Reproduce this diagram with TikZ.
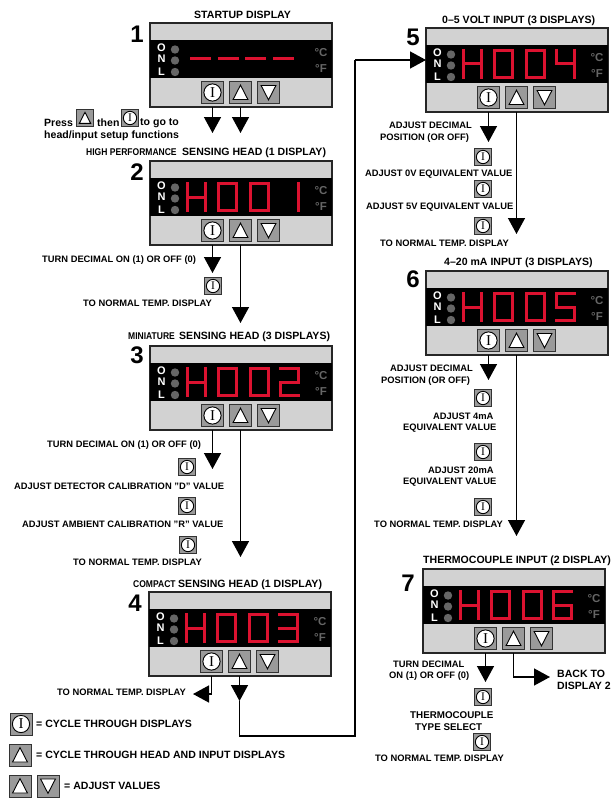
\documentclass[tikz,border=0pt]{standalone}
\usepackage{fontspec}
\setmainfont{Liberation Sans}
\newfontfamily\serfam{Liberation Serif}
\newfontfamily\condf[FakeStretch=0.87]{Liberation Sans}
\usetikzlibrary{arrows.meta}
\definecolor{pgrey}{HTML}{D2D2D2}
\definecolor{bgrey}{HTML}{9A9A9A}
\definecolor{dotg}{HTML}{666666}
\definecolor{segred}{HTML}{DC1230}
\tikzset{
  x=1pt,y=-1pt,
  panelbox/.style={draw=black!85,line width=1.1pt,fill=pgrey,minimum width=182pt,minimum height=84pt,anchor=north west,inner sep=0pt,outer sep=0pt},
  btnbox/.style={draw=black!80,line width=0.9pt,fill=bgrey,minimum size=22pt,inner sep=0pt,outer sep=0pt},
  ifont/.style={font=\serfam\fontsize{15}{15}\selectfont,inner sep=0pt,text=black},
  lab/.style={font=\fontsize{9.35}{10}\selectfont\bfseries,inner sep=0pt,anchor=base west},
  hlab/.style={font=\fontsize{10.55}{11}\selectfont\bfseries,inner sep=0pt,anchor=base west},
  mlab/.style={font=\fontsize{9.8}{10}\selectfont\bfseries,inner sep=0pt,anchor=base west},
  condlab/.style={font=\condf\fontsize{9.8}{10}\selectfont\bfseries,inner sep=0pt,anchor=base west},
  numlab/.style={font=\fontsize{24}{24}\selectfont\bfseries,inner sep=0pt},
  onl/.style={font=\fontsize{11}{11}\selectfont\bfseries,text=white,inner sep=0pt},
  deg/.style={font=\fontsize{11.5}{12}\selectfont\bfseries,text=dotg,inner sep=0pt},
  seg/.style={draw=segred,line width=3pt},
  conn/.style={draw=black,line width=1.4pt},
  arr/.style={conn,-{Triangle[width=17pt,length=16pt]}}
}
% buttons: name, cx, cy, size
\newcommand\btnI[4]{\begin{scope}[shift={(#2,#3)},scale=#4/22,transform shape]
  \node[btnbox] (#1) at (0,0) {};
  \draw[fill=white,draw=black,line width=0.9pt] (0,0) circle (8.6);
  \node[ifont] (#1t) at (0,0) {I};
\end{scope}}
\newcommand\btnU[4]{\begin{scope}[shift={(#2,#3)},scale=#4/22,transform shape]
  \node[btnbox] (#1) at (0,0) {};
  \draw[fill=white,draw=black,line width=0.9pt] (-7.4,7) -- (0,-7.4) -- (7.4,7) -- cycle;
\end{scope}}
\newcommand\btnD[4]{\begin{scope}[shift={(#2,#3)},scale=#4/22,transform shape]
  \node[btnbox] (#1) at (0,0) {};
  \draw[fill=white,draw=black,line width=0.9pt] (-7.4,-7) -- (0,7.4) -- (7.4,-7) -- cycle;
\end{scope}}
% seven segment digit
\newcommand\sga{\draw[seg] (0,1.4) -- (21,1.4);}
\newcommand\sgb{\draw[seg] (19.6,0) -- (19.6,14.6);}
\newcommand\sgc{\draw[seg] (19.6,15.4) -- (19.6,30);}
\newcommand\sgd{\draw[seg] (0,28.6) -- (21,28.6);}
\newcommand\sge{\draw[seg] (1.4,15.4) -- (1.4,30);}
\newcommand\sgf{\draw[seg] (1.4,0) -- (1.4,14.6);}
\newcommand\sgg{\draw[seg] (0,15) -- (21,15);}
\newcommand\digH{\sgf\sge\sgb\sgc\sgg}
\newcommand\digO{\sga\sgb\sgc\sgd\sge\sgf}
\newcommand\digA{\sgb\sgc}
\newcommand\digB{\sga\sgb\sgg\sge\sgd}
\newcommand\digC{\sga\sgb\sgg\sgc\sgd}
\newcommand\digD{\sgf\sgg\sgb\sgc}
\newcommand\digE{\sga\sgf\sgg\sgc\sgd}
\newcommand\digF{\sga\sgf\sgg\sge\sgc\sgd}
\newcommand\disp[1]{%
  \begin{scope}[shift={(36,21)}]\digH\end{scope}
  \begin{scope}[shift={(67,21)}]\digO\end{scope}
  \begin{scope}[shift={(99,21)}]\digO\end{scope}
  \begin{scope}[shift={(129,21)}]#1\end{scope}}
% panel: id, x, y, display content
\newcommand\panel[4]{%
  \node[panelbox] (#1) at (#2,#3) {};
  \begin{scope}[shift={(#2,#3)}]
    \fill[black] (0,17) rectangle (182,55);
    \node[onl] (#1o) at (11.5,24.5) {O};
    \node[onl] (#1n) at (11.5,36.2) {N};
    \node[onl] (#1l) at (11.5,48.5) {L};
    \fill[dotg] (25,26.5) circle (4.2) (25,37.5) circle (4.2) (25,49) circle (4.2);
    \node[deg] (#1c) at (171,29.5) {°C};
    \node[deg] (#1f) at (171,45.5) {°F};
    #4
    \btnI{#1I}{62.5}{69.5}{22}
    \btnU{#1U}{90.5}{69.5}{22}
    \btnD{#1D}{118.5}{69.5}{22}
  \end{scope}}
\newcommand\lab[4]{\node[lab] (#1) at (#2,#3+3.3) {#4};}
\newcommand\hlab[4]{\node[hlab] (#1) at (#2,#3+3.7) {#4};}
\newcommand\mlab[4]{\node[mlab] (#1) at (#2,#3+3.4) {#4};}
\newcommand\clab[4]{\node[condlab] (#1) at (#2,#3+3.5) {#4};}
\begin{document}
\begin{tikzpicture}
\useasboundingbox (0,0) rectangle (613,800);
% panels
\panel{pa}{150}{23}{\draw[seg] (40,35.7) -- (61,35.7) (68,35.7) -- (89,35.7) (95,35.7) -- (116,35.7) (123,35.7) -- (144,35.7);}
\panel{pb}{150}{161}{\disp{\digA}}
\panel{pc}{150}{346}{\disp{\digB}}
\panel{pd}{149}{592}{\disp{\digC}}
\panel{pe}{426}{28}{\disp{\digD}}
\panel{pf}{426}{271}{\disp{\digE}}
\panel{pg}{423}{569}{\disp{\digF}}
% numbers
\node[numlab] (n1) at (137,34) {1};
\node[numlab] (n2) at (137,172) {2};
\node[numlab] (n3) at (137,355) {3};
\node[numlab] (n4) at (135,603) {4};
\node[numlab] (n5) at (413,37) {5};
\node[numlab] (n6) at (413,279) {6};
\node[numlab] (n7) at (408,583) {7};
% headings
\hlab{h1}{194}{15}{STARTUP DISPLAY}
\clab{h2a}{86}{152}{HIGH PERFORMANCE}
\hlab{h2b}{182}{152}{SENSING HEAD (1 DISPLAY)}
\clab{h3a}{128}{336}{MINIATURE}
\hlab{h3b}{179}{336}{SENSING HEAD (3 DISPLAYS)}
\clab{h4a}{133}{584}{COMPACT}
\hlab{h4b}{178}{584}{SENSING HEAD (1 DISPLAY)}
\hlab{h5}{442}{20}{0–5 VOLT INPUT (3 DISPLAYS)}
\hlab{h6}{444}{262}{4–20 mA INPUT (3 DISPLAYS)}
\hlab{h7}{423}{560}{THERMOCOUPLE INPUT (2 DISPLAY)}
% press note
\hlab{pr1}{44}{123}{Press}
\btnU{prU}{85}{118}{17}
\hlab{pr2}{97}{123}{then}
\btnI{prI}{130}{118}{17}
\hlab{pr3}{140}{122}{to go to}
\hlab{pr4}{44}{134.5}{head/input setup functions}
% panel 1
\coordinate (t1) at (0,133);
\draw[arr] (paI |- pa.south) -- (paI |- t1);
\draw[arr] (paU |- pa.south) -- (paU |- t1);
% panel 2
\coordinate (t2a) at (0,273);
\coordinate (t2b) at (0,323);
\draw[arr] (pbI |- pb.south) -- (pbI |- t2a);
\draw[arr] (pbU |- pb.south) -- (pbU |- t2b);
\btnI{s2a}{213}{286}{17}
\lab{l2a}{42}{259}{TURN DECIMAL ON (1) OR OFF (0)}
\lab{l2b}{83}{303}{TO NORMAL TEMP. DISPLAY}
% panel 3
\coordinate (t3a) at (0,469);
\coordinate (t3b) at (0,557);
\draw[arr] (pcI |- pc.south) -- (pcI |- t3a);
\draw[arr] (pcU |- pc.south) -- (pcU |- t3b);
\btnI{s3a}{187}{467}{17}
\btnI{s3b}{187}{506}{17}
\btnI{s3c}{188}{545}{17}
\lab{l3a}{47}{444}{TURN DECIMAL ON (1) OR OFF (0)}
\lab{l3b}{14}{486}{ADJUST DETECTOR CALIBRATION "D" VALUE}
\lab{l3c}{22}{524}{ADJUST AMBIENT CALIBRATION "R" VALUE}
\lab{l3d}{73}{562}{TO NORMAL TEMP. DISPLAY}
% panel 4
\coordinate (t4a) at (193,694);
\coordinate (t4b) at (0,701);
\coordinate (t4c) at (0,736);
\draw[arr] (pdI |- pd.south) |- (t4a);
\draw[arr] (pdU |- pd.south) -- (pdU |- t4b);
\lab{l4a}{57}{692}{TO NORMAL TEMP. DISPLAY}
% long link to panel 5
\coordinate (t5in) at (355,60);
\draw[conn] (pdU |- t4b) |- (t5in |- t4c) -- (t5in);
\draw[arr] (t5in) -- (t5in -| pe.west);
% legend
\btnI{k1}{21}{724}{22}
\hlab{k1t}{36}{724}{= CYCLE THROUGH DISPLAYS}
\btnU{k2}{20}{755}{22}
\hlab{k2t}{36}{755}{= CYCLE THROUGH HEAD AND INPUT DISPLAYS}
\btnU{k3}{20}{786}{22}
\btnD{k4}{48}{786}{22}
\hlab{k4t}{64}{786}{= ADJUST VALUES}
% panel 5
\coordinate (t5a) at (0,142);
\coordinate (t5b) at (0,234);
\draw[arr] (peI |- pe.south) -- (peI |- t5a);
\draw[arr] (peU |- pe.south) -- (peU |- t5b);
\btnI{s5a}{483}{157}{17}
\btnI{s5b}{483}{189}{17}
\btnI{s5c}{483}{226}{17}
\lab{l5a}{389}{125}{ADJUST DECIMAL}
\lab{l5b}{380}{137}{POSITION (OR OFF)}
\lab{l5c}{365}{173}{ADJUST 0V EQUIVALENT VALUE}
\lab{l5d}{366}{206}{ADJUST 5V EQUIVALENT VALUE}
\lab{l5e}{380}{243}{TO NORMAL TEMP. DISPLAY}
% panel 6
\coordinate (t6a) at (0,380);
\coordinate (t6b) at (0,536);
\draw[arr] (pfI |- pf.south) -- (pfI |- t6a);
\draw[arr] (pfU |- pf.south) -- (pfU |- t6b);
\btnI{s6a}{483}{398}{17}
\btnI{s6b}{483}{452}{17}
\btnI{s6c}{483}{507}{17}
\lab{l6a}{390}{368}{ADJUST DECIMAL}
\lab{l6b}{381}{380}{POSITION (OR OFF)}
\lab{l6c}{433}{416}{ADJUST 4mA}
\lab{l6d}{403}{427}{EQUIVALENT VALUE}
\lab{l6e}{428}{470}{ADJUST 20mA}
\lab{l6f}{403}{481}{EQUIVALENT VALUE}
\lab{l6g}{374}{524}{TO NORMAL TEMP. DISPLAY}
% panel 7
\coordinate (t7a) at (0,682);
\coordinate (t7b) at (550,677);
\draw[arr] (pgI |- pg.south) -- (pgI |- t7a);
\draw[arr] (pgU |- pg.south) |- (t7b);
\btnI{s7a}{483}{697}{17}
\btnI{s7b}{482}{742}{17}
\lab{l7a}{393}{664}{TURN DECIMAL}
\lab{l7b}{389}{675}{ON (1) OR OFF (0)}
\mlab{l7c}{410}{715}{THERMOCOUPLE}
\mlab{l7d}{415}{727}{TYPE SELECT}
\lab{l7e}{375}{758}{TO NORMAL TEMP. DISPLAY}
\hlab{l7f}{557}{674}{BACK TO}
\hlab{l7g}{557}{686}{DISPLAY 2}
\end{tikzpicture}
\end{document}
